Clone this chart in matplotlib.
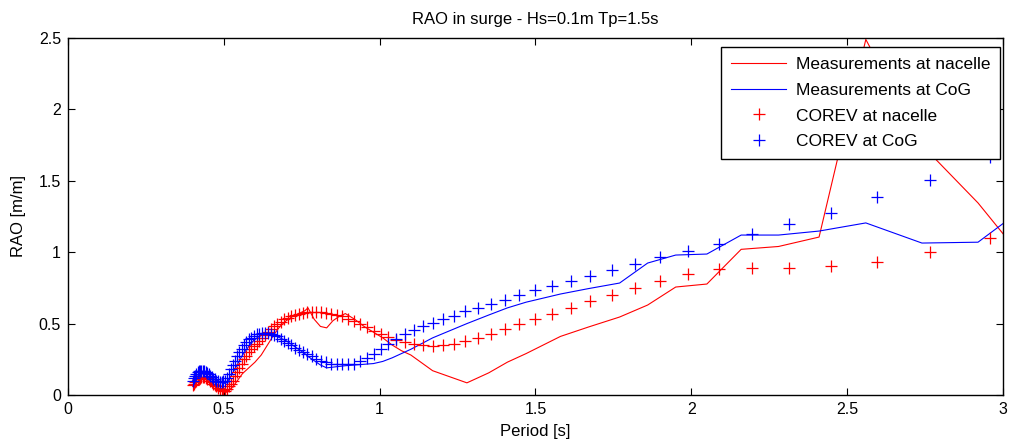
import matplotlib
matplotlib.use("Agg")
import matplotlib.pyplot as plt

plt.rcParams['font.family'] = ['Liberation Sans', 'DejaVu Sans']

# COREV computed points
period_corev = [
    0.400, 0.404, 0.408, 0.412, 0.416, 0.420, 0.424, 0.428, 0.433, 0.437,
    0.442, 0.446, 0.451, 0.456, 0.461, 0.466, 0.471, 0.476, 0.482, 0.487,
    0.493, 0.498, 0.504, 0.510, 0.517, 0.523, 0.529, 0.536, 0.543, 0.550,
    0.557, 0.565, 0.572, 0.580, 0.588, 0.596, 0.605, 0.613, 0.622, 0.632,
    0.641, 0.651, 0.661, 0.671, 0.682, 0.693, 0.705, 0.717, 0.729, 0.742,
    0.755, 0.768, 0.783, 0.797, 0.812, 0.828, 0.845, 0.862, 0.880, 0.898,
    0.917, 0.938, 0.959, 0.981, 1.004, 1.028, 1.054, 1.081, 1.109, 1.138,
    1.170, 1.203, 1.238, 1.275, 1.314, 1.356, 1.401, 1.448, 1.499, 1.554,
    1.613, 1.676, 1.745, 1.820, 1.901, 1.990, 2.088, 2.195, 2.315, 2.448,
    2.597, 2.766, 2.959]

corev_nacelle = [
    0.07, 0.08, 0.09, 0.10, 0.11, 0.115, 0.12, 0.125, 0.125, 0.125,
    0.12, 0.115, 0.11, 0.10, 0.09, 0.08, 0.07, 0.06, 0.05, 0.04,
    0.035, 0.03, 0.03, 0.04, 0.06, 0.08, 0.10, 0.13, 0.16, 0.19,
    0.22, 0.25, 0.27, 0.30, 0.32, 0.34, 0.36, 0.38, 0.40, 0.42,
    0.44, 0.46, 0.48, 0.50, 0.51, 0.53, 0.54, 0.55, 0.56, 0.57,
    0.575, 0.58, 0.58, 0.58, 0.58, 0.575, 0.57, 0.56, 0.55, 0.535,
    0.52, 0.50, 0.475, 0.45, 0.425, 0.405, 0.385, 0.37, 0.36, 0.35,
    0.345, 0.35, 0.36, 0.375, 0.40, 0.43, 0.465, 0.50, 0.535, 0.57,
    0.61, 0.66, 0.70, 0.75, 0.80, 0.85, 0.88, 0.89, 0.89, 0.90,
    0.93, 1.00, 1.10]

corev_cog = [
    0.10, 0.12, 0.135, 0.15, 0.16, 0.165, 0.17, 0.17, 0.17, 0.165,
    0.16, 0.155, 0.145, 0.135, 0.125, 0.115, 0.11, 0.10, 0.095, 0.09,
    0.09, 0.095, 0.10, 0.12, 0.15, 0.18, 0.21, 0.24, 0.27, 0.30,
    0.32, 0.35, 0.37, 0.39, 0.40, 0.415, 0.425, 0.43, 0.435, 0.435,
    0.435, 0.43, 0.42, 0.41, 0.395, 0.38, 0.365, 0.35, 0.33, 0.315,
    0.30, 0.285, 0.27, 0.255, 0.24, 0.23, 0.22, 0.215, 0.215, 0.215,
    0.22, 0.235, 0.26, 0.29, 0.32, 0.355, 0.395, 0.43, 0.455, 0.48,
    0.505, 0.53, 0.555, 0.585, 0.61, 0.635, 0.665, 0.70, 0.735, 0.76,
    0.80, 0.83, 0.875, 0.92, 0.965, 1.01, 1.06, 1.13, 1.195, 1.275,
    1.385, 1.505, 1.67]

# Measurements
period_meas = [
    0.40, 0.41, 0.42, 0.43, 0.44, 0.45, 0.46, 0.47, 0.48, 0.49,
    0.50, 0.51, 0.52, 0.53, 0.54, 0.55, 0.56, 0.57, 0.58, 0.59,
    0.60, 0.62, 0.64, 0.66, 0.68, 0.70, 0.72, 0.74, 0.76, 0.77,
    0.79, 0.81, 0.83, 0.85, 0.87, 0.89, 0.92, 0.95, 0.98, 1.01,
    1.04, 1.07, 1.10, 1.17, 1.28, 1.35, 1.41, 1.47, 1.58, 1.67,
    1.77, 1.86, 1.95, 2.05, 2.16, 2.28, 2.41, 2.56, 2.74, 2.92,
    3.00]

meas_nacelle = [
    0.06, 0.08, 0.10, 0.11, 0.11, 0.10, 0.08, 0.06, 0.05, 0.03,
    0.02, 0.02, 0.04, 0.06, 0.09, 0.12, 0.15, 0.17, 0.19, 0.21,
    0.23, 0.28, 0.35, 0.42, 0.48, 0.52, 0.55, 0.57, 0.59, 0.61,
    0.53, 0.48, 0.47, 0.52, 0.55, 0.57, 0.53, 0.48, 0.44, 0.40,
    0.35, 0.31, 0.28, 0.17, 0.085, 0.155, 0.23, 0.29, 0.41, 0.476,
    0.546, 0.63, 0.756, 0.777, 1.02, 1.04, 1.106, 2.49, 1.75, 1.345,
    1.13]

meas_cog = [
    0.10, 0.13, 0.15, 0.16, 0.16, 0.15, 0.13, 0.11, 0.10, 0.09,
    0.08, 0.09, 0.12, 0.16, 0.20, 0.24, 0.28, 0.31, 0.34, 0.37,
    0.39, 0.42, 0.43, 0.42, 0.40, 0.38, 0.35, 0.32, 0.29, 0.27,
    0.24, 0.21, 0.19, 0.195, 0.20, 0.205, 0.21, 0.215, 0.22, 0.235,
    0.26, 0.29, 0.32, 0.40, 0.50, 0.56, 0.61, 0.65, 0.707, 0.745,
    0.784, 0.924, 0.98, 0.987, 1.12, 1.12, 1.148, 1.205, 1.064, 1.07,
    1.20]

labels = ["Measurements at nacelle", "Measurements at CoG",
          "COREV at nacelle", "COREV at CoG"]

fig = plt.figure(figsize=(10.09, 4.43), dpi=100)
ax = fig.add_axes([0.0674, 0.1084, 0.9266, 0.8058])

ax.plot(period_meas, meas_nacelle, color='#ff0000', lw=0.8, label=labels[0])
ax.plot(period_meas, meas_cog, color='#0000ff', lw=0.8, label=labels[1])
ax.plot(period_corev, corev_nacelle, ls='none', marker='+', ms=8, mew=0.9,
        color='#ff0000', label=labels[2])
ax.plot(period_corev, corev_cog, ls='none', marker='+', ms=8, mew=0.9,
        color='#0000ff', label=labels[3])

ax.set_xlim(0, 3)
ax.set_ylim(0, 2.5)
ax.set_xticks([0, 0.5, 1, 1.5, 2, 2.5, 3])
ax.set_xticklabels(['0', '0.5', '1', '1.5', '2', '2.5', '3'])
ax.set_yticks([0, 0.5, 1, 1.5, 2, 2.5])
ax.set_yticklabels(['0', '0.5', '1', '1.5', '2', '2.5'])
ax.tick_params(direction='in', length=5, width=0.8, top=True, right=True,
               labelsize=11.5, pad=5)
for s in ax.spines.values():
    s.set_linewidth(1.0)

ax.set_title("RAO in surge - Hs=0.1m Tp=1.5s", fontsize=12, pad=10)
ax.set_xlabel("Period [s]", fontsize=12, labelpad=5)
ax.set_ylabel("RAO [m/m]", fontsize=12, labelpad=9)

leg = ax.legend(loc='upper right', bbox_to_anchor=(0.9968, 0.9748),
                borderaxespad=0, fontsize=12.5, numpoints=1,
                handlelength=3.2, handletextpad=0.55, labelspacing=0.62,
                borderpad=0.55, fancybox=False, framealpha=1,
                edgecolor='black')
leg.get_frame().set_linewidth(1.0)

fig.savefig("out.png", dpi=100)
